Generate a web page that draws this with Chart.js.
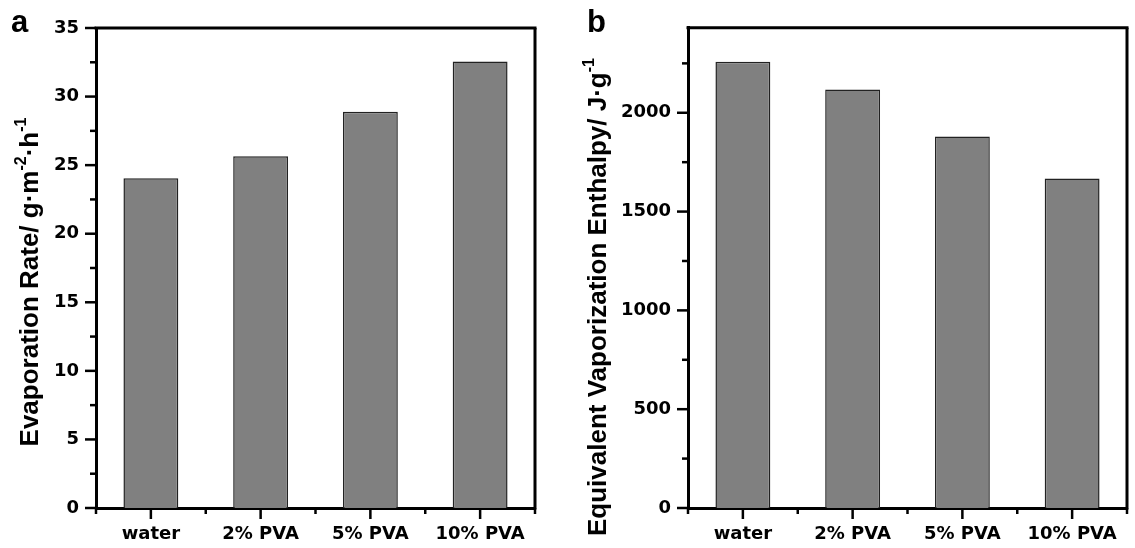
<!DOCTYPE html>
<html>
<head>
<meta charset="utf-8">
<script src="https://cdn.jsdelivr.net/npm/chart.js@4.4.1/dist/chart.umd.min.js"></script>
<style>
  html, body { margin: 0; padding: 0; background: #fff; }
  .panel { position: absolute; top: 0; }
  #rateChart { left: 0; }
  #enthalpyChart { left: 560px; }
</style>
</head>
<body>
<canvas id="rateChart" class="panel" width="560" height="548"></canvas>
<canvas id="enthalpyChart" class="panel" width="575" height="548"></canvas>
<script>
const samples = ['water', '2% PVA', '5% PVA', '10% PVA']
const evaporationRate = [24.05, 25.65, 28.9, 32.55]
const vaporizationEnthalpy = [2258, 2118, 1880, 1668]

const rateTicks = [0, 5, 10, 15, 20, 25, 30, 35]
const rateMinorTicks = [2.5, 7.5, 12.5, 17.5, 22.5, 27.5, 32.5]
const enthalpyTicks = [0, 500, 1000, 1500, 2000]
const enthalpyMinorTicks = [250, 750, 1250, 1750, 2250]

const FONT = 'DejaVu Sans'
const TITLE_FONT = 'Liberation Sans'

// box frame, outward ticks (major + minor), rotated axis title with superscripts, panel letter
const framePlugin = {
  id: 'frame',
  afterDraw(chart, args, opts) {
    const { ctx, chartArea: area, scales } = chart
    const { x, y } = scales
    ctx.save()
    ctx.strokeStyle = '#000'
    ctx.lineCap = 'butt'

    const line = (x1, y1, x2, y2) => {
      ctx.beginPath()
      ctx.moveTo(x1, y1)
      ctx.lineTo(x2, y2)
      ctx.stroke()
    }

    // top and right edges of the box
    ctx.lineWidth = 3
    line(area.left - 1.5, area.top, area.right + 1.5, area.top)
    line(area.right, area.top, area.right, area.bottom + 1.5)

    ctx.lineWidth = 2.5
    y.ticks.forEach((t) => {
      const py = y.getPixelForValue(t.value)
      line(area.left - 11, py, area.left, py)
    })
    opts.minor.forEach((v) => {
      const py = y.getPixelForValue(v)
      line(area.left - 6, py, area.left, py)
    })
    x.ticks.forEach((t, i) => {
      const px = x.getPixelForValue(i)
      line(px, area.bottom, px, area.bottom + 11)
    })
    for (let i = 0; i <= x.ticks.length; i++) {
      const px = x.getPixelForValue(i - 0.5)
      line(px, area.bottom, px, area.bottom + 6)
    }

    // axis title
    ctx.fillStyle = '#000'
    ctx.textBaseline = 'alphabetic'
    ctx.textAlign = 'left'
    const mainFont = `bold ${opts.titleSize}px "${TITLE_FONT}"`
    const supFont = `bold ${Math.round(opts.titleSize * 0.62)}px "${TITLE_FONT}"`
    let total = 0
    opts.title.forEach((seg) => {
      ctx.font = seg.sup ? supFont : mainFont
      seg.w = ctx.measureText(seg.text).width
      total += seg.w
    })
    ctx.translate(opts.titleX, opts.titleY)
    ctx.rotate(-Math.PI / 2)
    let pos = -total / 2
    opts.title.forEach((seg) => {
      ctx.font = seg.sup ? supFont : mainFont
      ctx.fillText(seg.text, pos, seg.sup ? -opts.titleSize * 0.45 : 0)
      pos += seg.w
    })
    ctx.setTransform(1, 0, 0, 1, 0, 0)

    // panel letter
    ctx.font = `bold 31px "${TITLE_FONT}"`
    ctx.fillText(opts.letter, opts.letterX, opts.letterY)
    ctx.restore()
  },
}

function makeChart(id, values, ticks, minor, max, yWidth, padding, frame) {
  return new Chart(document.getElementById(id), {
    type: 'bar',
    data: {
      labels: samples,
      datasets: [
        {
          data: values,
          backgroundColor: '#808080',
          borderColor: '#222',
          borderWidth: 1.5,
          categoryPercentage: 1,
          barPercentage: 0.5,
        },
      ],
    },
    options: {
      responsive: false,
      animation: false,
      devicePixelRatio: 1,
      layout: { padding: padding },
      plugins: {
        legend: { display: false },
        tooltip: { enabled: false },
        frame: Object.assign({ minor: minor }, frame),
      },
      scales: {
        x: {
          grid: { display: false, drawTicks: false },
          border: { display: true, color: '#000', width: 3 },
          ticks: {
            color: '#000',
            padding: 16,
            maxRotation: 0,
            font: { family: FONT, size: 18, weight: 'bold' },
          },
          afterFit: (scale) => { scale.height = 40 },
        },
        y: {
          min: 0,
          max: max,
          grid: { display: false, drawTicks: false },
          border: { display: true, color: '#000', width: 3 },
          ticks: {
            color: '#000',
            padding: 17,
            font: { family: FONT, size: 18, weight: 'bold' },
            callback: (v) => String(v),
          },
          afterBuildTicks: (scale) => {
            scale.ticks = ticks.map((v) => ({ value: v }))
          },
          afterFit: (scale) => { scale.width = yWidth },
        },
      },
    },
    plugins: [framePlugin],
  })
}

makeChart('rateChart', evaporationRate, rateTicks, rateMinorTicks, 35, 96,
  { top: 28, right: 25, left: 0, bottom: 0 },
  {
    letter: 'a', letterX: 11, letterY: 32,
    titleSize: 26, titleX: 38, titleY: 282,
    title: [
      { text: 'Evaporation Rate/ g·m' },
      { text: '-2', sup: true },
      { text: '·h' },
      { text: '-1', sup: true },
    ],
  })

makeChart('enthalpyChart', vaporizationEnthalpy, enthalpyTicks, enthalpyMinorTicks, 2430, 128,
  { top: 27, right: 8, left: 0, bottom: 0 },
  {
    letter: 'b', letterX: 27, letterY: 32,
    titleSize: 26, titleX: 46, titleY: 297,
    title: [
      { text: 'Equivalent Vaporization Enthalpy/ J·g' },
      { text: '-1', sup: true },
    ],
  })
</script>
</body>
</html>
